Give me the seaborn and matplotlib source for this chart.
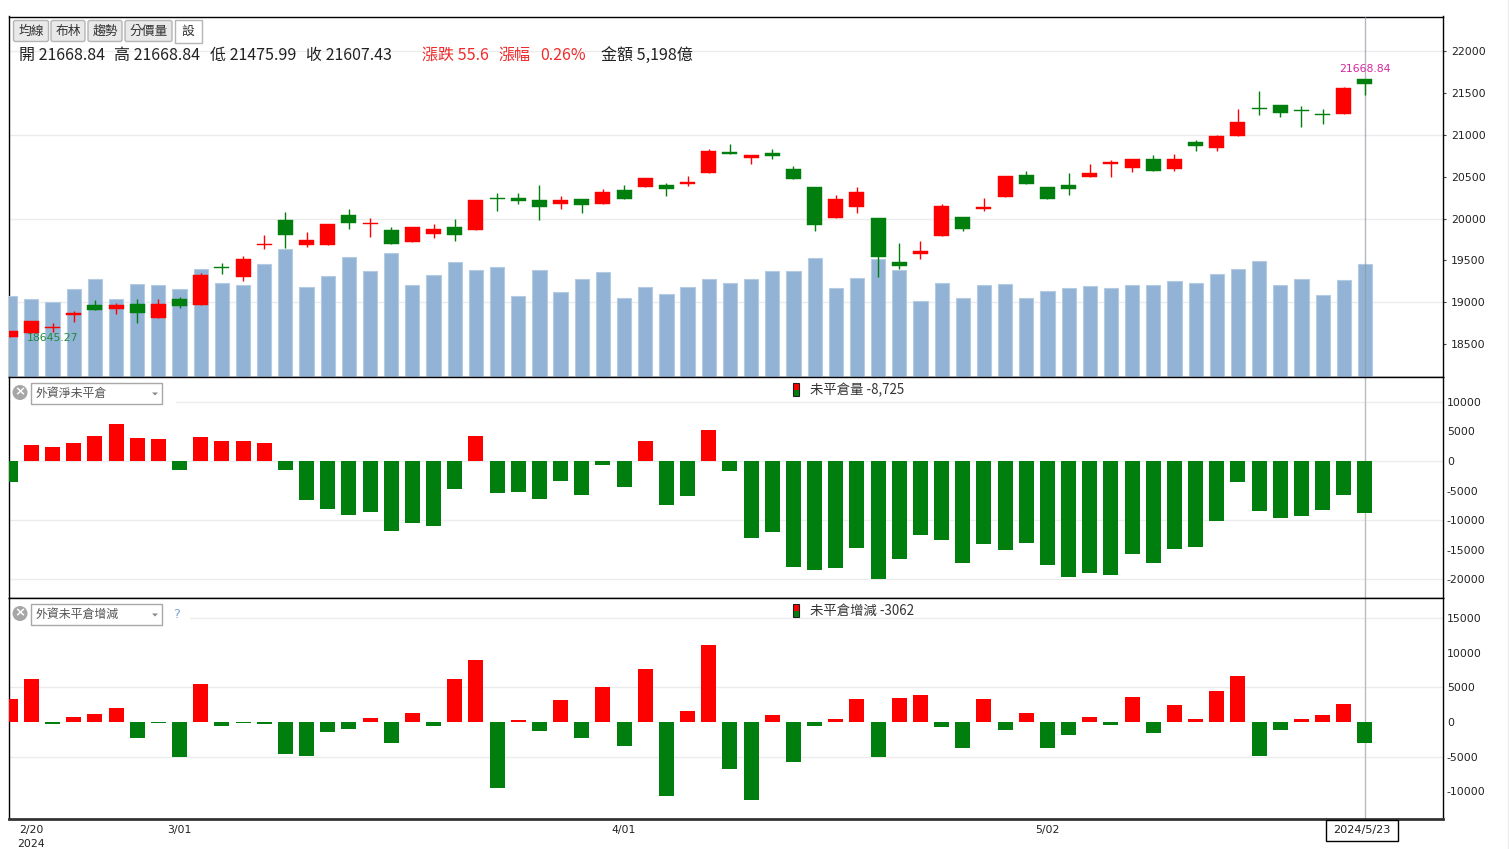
"""Taiex daily candles, turnover and foreign net open interest panes."""
import matplotlib

matplotlib.use("Agg")
import matplotlib.pyplot as plt
import numpy as np
import pandas as pd
import seaborn as sns
from matplotlib.patches import Circle, FancyBboxPatch, Polygon, Rectangle

W, H = 1509, 849
CJK = ["Noto Sans CJK TC", "DejaVu Sans"]
RED = "#ff0000"
GREEN = "#007f0e"

# -----------------------------------------------------------------------------
# Data
# -----------------------------------------------------------------------------
open_px = [18580, 18635, 18687, 18853, 18968, 18921, 18980, 18814, 19040, 18968,
           19417, 19302, 19687, 19980, 19683, 19683, 20040, 19937, 19861, 19718,
           19814, 19897, 19861, 20242, 20242, 20218, 20171, 20230, 20171, 20337,
           20373, 20397, 20409, 20540, 20802, 20730, 20790, 20599, 20373, 20004,
           20135, 20004, 19480, 19575, 19790, 20016, 20111, 20254, 20516, 20373,
           20397, 20492, 20647, 20611, 20718, 20599, 20921, 20849, 20992, 21325,
           21361, 21294, 21254, 21254, 21668.84]
high_px = [18659, 18774, 18754, 18901, 19032, 18992, 19040, 19040, 19068, 19345,
           19468, 19548, 19810, 20076, 19845, 19933, 20119, 20008, 19905, 19897,
           19933, 20000, 20218, 20310, 20302, 20405, 20266, 20230, 20349, 20397,
           20480, 20421, 20504, 20837, 20897, 20766, 20837, 20635, 20373, 20278,
           20373, 20004, 19706, 19730, 20175, 20016, 20242, 20504, 20575, 20373,
           20540, 20647, 20706, 20718, 20766, 20778, 20944, 21004, 21314, 21528,
           21361, 21349, 21314, 21575, 21668.84]
low_px = [18580, 18635, 18645.27, 18770, 18909, 18861, 18754, 18814, 18933, 18968,
          19341, 19258, 19639, 19643, 19663, 19683, 19873, 19782, 19695, 19718,
          19766, 19730, 19861, 20087, 20171, 19980, 20111, 20064, 20171, 20230,
          20373, 20266, 20385, 20540, 20778, 20647, 20718, 20468, 19849, 20004,
          20064, 19302, 19397, 19516, 19790, 19849, 20087, 20254, 20409, 20230,
          20278, 20492, 20492, 20552, 20575, 20575, 20814, 20814, 20992, 21242,
          21218, 21099, 21135, 21254, 21475.99]
close_px = [18659, 18774, 18699, 18877, 18909, 18968, 18873, 18980, 18956, 19326,
            19405, 19516, 19699, 19802, 19742, 19933, 19945, 19953, 19695, 19897,
            19873, 19802, 20218, 20230, 20206, 20135, 20218, 20159, 20314, 20230,
            20480, 20349, 20433, 20814, 20778, 20766, 20754, 20468, 19921, 20230,
            20314, 19540, 19433, 19611, 20147, 19873, 20135, 20504, 20409, 20230,
            20349, 20540, 20671, 20718, 20575, 20718, 20873, 20992, 21159, 21314,
            21266, 21282, 21242, 21563, 21607.43]
turnover = [3716, 3578, 3440, 4037, 4495, 3578, 4266, 4220, 4037, 4954,
            4312, 4220, 5183, 5871, 4128, 4633, 5504, 4862, 5688, 4220,
            4679, 5275, 4908, 5046, 3716, 4908, 3899, 4495, 4816, 3624,
            4128, 3807, 4128, 4495, 4312, 4495, 4862, 4862, 5459, 4082,
            4541, 5428, 4908, 3486, 4312, 3624, 4220, 4266, 3624, 3945,
            4082, 4174, 4082, 4220, 4220, 4404, 4312, 4725, 4954, 5321,
            4220, 4495, 3761, 4449, 5198]
net_oi = [-3547, 2702, 2365, 3040, 4222, 6249, 3885, 3716, -1520, 4054,
          3378, 3378, 3040, -1520, -6587, -8107, -9121, -8614, -11823, -10472,
          -10978, -4729, 4222, -5405, -5236, -6418, -3378, -5743, -676, -4391,
          3378, -7432, -5911, 5236, -1689, -13005, -11992, -17903, -18410, -18072,
          -14694, -19930, -16552, -12499, -13343, -17228, -14019, -15032, -13850, -17566,
          -19592, -18917, -19255, -15708, -17228, -14863, -14525, -10134, -3547, -8445,
          -9627, -9290, -8276, -5743, -8725]
oi_change = [3333, 6231, -290, 725, 1159, 2029, -2318, -120, -5072, 5506,
             -580, -100, -290, -4637, -4927, -1449, -1014, 580, -3043, 1304,
             -580, 6231, 8984, -9563, 290, -1304, 3188, -2318, 5072, -3478,
             7680, -10723, 1594, 11157, -6810, -11302, 1014, -5796, -580, 435,
             3333, -5072, 3478, 3912, -725, -3767, 3333, -1159, 1304, -3767,
             -1884, 725, -435, 3623, -1594, 2463, 435, 4492, 6665, -4927,
             -1159, 435, 1014, 2608, -3062]

price_ticks = [22000, 21500, 21000, 20500, 20000, 19500, 19000, 18500]
price_grid = [22000, 21000, 20000, 19000]
net_ticks = [10000, 5000, 0, -5000, -10000, -15000, -20000]
net_grid = [10000, 0, -10000, -20000]
chg_ticks = [15000, 10000, 5000, 0, -5000, -10000]
chg_grid = [15000, 5000, -5000]
date_pos = [1, 8, 29, 49]
date_labels = ["2/20\n2024", "3/01", "4/01", "5/02"]

idx = np.arange(len(close_px))
X_MIN, X_MAX = -0.0425, 67.7


def add_pane(top, bottom, ylim):
    """Axes placed by pixel box, with the x range shared by all panes."""
    ax = fig.add_axes([9.3 / W, 1 - bottom / H, 1434 / W, (bottom - top) / H])
    ax.set_xlim(X_MIN, X_MAX)
    ax.set_ylim(*ylim)
    return ax


def style_axis(ax, ticks, grid, tick_len=0, pad=2.5):
    ax.yaxis.tick_right()
    ax.set_yticks(ticks)
    ax.set_xticks([])
    ax.set_xlabel("")
    ax.set_ylabel("")
    ax.tick_params(axis="y", length=tick_len, width=0.8, pad=pad, labelsize=7.8,
                   labelcolor="#222222", color="#444444")
    for v in grid:
        ax.axhline(v, color="#ececec", lw=1, zorder=0)
    for s in ax.spines.values():
        s.set_color("black")
        s.set_linewidth(1)


def signed_bars(ax, values):
    df = pd.DataFrame({"i": idx, "v": values,
                       "side": ["up" if v > 0 else "down" for v in values]})
    sns.barplot(data=df, x="i", y="v", hue="side", native_scale=True, dodge=False,
                palette={"up": RED, "down": GREEN}, errorbar=None, width=0.71,
                saturation=1, legend=False, linewidth=0, ax=ax, zorder=3)
    ax.set_xlim(X_MIN, X_MAX)


sns.set_theme(style="white")
plt.rcParams["font.family"] = ["DejaVu Sans", "Noto Sans CJK TC"]
plt.rcParams["axes.unicode_minus"] = False

fig = plt.figure(figsize=(W / 100, H / 100), dpi=100)
fig.patch.set_facecolor("white")

# -----------------------------------------------------------------------------
# Price pane: grid at the bottom, turnover above it, candles on top
# -----------------------------------------------------------------------------
price_lim = (18107, 22416)
ax_price = add_pane(16.5, 377, price_lim)
style_axis(ax_price, price_ticks, price_grid, tick_len=2.2, pad=3.2)

ax_vol = add_pane(16.5, 377, (0, 16539))
ax_vol.patch.set_visible(False)
sns.barplot(x=idx, y=turnover, native_scale=True, color="#92b3d5", saturation=1,
            errorbar=None, width=0.67, edgecolor="#b4cbe2", linewidth=0.8, ax=ax_vol)
ax_vol.set_xlim(X_MIN, X_MAX)
ax_vol.axis("off")
ax_vol.axvline(idx[-1], color="#8f9aa6", lw=1, alpha=0.7, zorder=5)

ax_candle = add_pane(16.5, 377, price_lim)
ax_candle.patch.set_visible(False)
ax_candle.axis("off")
for i, o, h, l, c in zip(idx, open_px, high_px, low_px, close_px):
    col = RED if c > o else GREEN
    ax_candle.vlines(i, l, h, color=col, lw=1, zorder=3)
    ax_candle.bar(i, abs(c - o), bottom=min(o, c), width=0.71, color=col,
                  edgecolor=col, lw=0.3, zorder=4)

ax_candle.annotate("21668.84", (idx[-1], high_px[-1]), xytext=(0, 3.5),
                   textcoords="offset points", ha="center", va="bottom",
                   fontsize=7.8, color="#d9259c")
ax_candle.annotate("18645.27", (2, low_px[2]), xytext=(0, -1),
                   textcoords="offset points", ha="center", va="top",
                   fontsize=7.8, color="#1f8a3c")

# -----------------------------------------------------------------------------
# Foreign net open interest and its daily change
# -----------------------------------------------------------------------------
ax_net = add_pane(377, 598, (-23139, 14188))
signed_bars(ax_net, net_oi)
style_axis(ax_net, net_ticks, net_grid)
ax_net.axvline(idx[-1], color="#bbbbbb", lw=1, zorder=1)

ax_chg = add_pane(598, 819, (-14055, 17968))
signed_bars(ax_chg, oi_change)
style_axis(ax_chg, chg_ticks, chg_grid)
ax_chg.axvline(idx[-1], color="#bbbbbb", lw=1, zorder=1)
ax_chg.set_xticks(date_pos)
ax_chg.set_xticklabels(date_labels, fontsize=7.8, color="#222222", linespacing=1.55)
ax_chg.tick_params(axis="x", length=0, pad=4)
ax_chg.spines["bottom"].set_linewidth(2)
ax_chg.spines["bottom"].set_color("#333333")

# -----------------------------------------------------------------------------
# Page widgets, drawn in pixel coordinates
# -----------------------------------------------------------------------------
ui = fig.add_axes([0, 0, 1, 1], zorder=10)
ui.set_xlim(0, W)
ui.set_ylim(H, 0)
ui.axis("off")
ui.patch.set_visible(False)


def button(x0, x1, label, bg="#e9e9e9", edge="#b5b5b5"):
    ui.add_patch(FancyBboxPatch((x0 + 1, 20.5), x1 - x0 - 2, 21,
                                boxstyle="round,pad=0,rounding_size=2",
                                fc=bg, ec=edge, lw=1, mutation_aspect=1))
    ui.text((x0 + x1) / 2, 31.5, label, ha="center", va="center", fontsize=9.2,
            color="#333333", family=CJK)


button(12.5, 49.5, "均線")
button(50, 86, "布林")
button(87, 123, "趨勢")
button(124, 173, "分價量")
ui.add_patch(Rectangle((174.5, 19.5), 27, 23, fc="white", ec="#b5b5b5", lw=1))
ui.text(188, 31.5, "設", ha="center", va="center", fontsize=9.2, color="#333333", family=CJK)

header = [(19, "開 21668.84", "#222222"), (114, "高 21668.84", "#222222"),
          (210, "低 21475.99", "#222222"), (306, "收 21607.43", "#222222"),
          (422, "漲跌 55.6", "#f02a2a"), (498, "漲幅", "#f02a2a"),
          (540, "0.26%", "#f02a2a"), (601, "金額 5,198億", "#222222")]
for x, s, col in header:
    ui.text(x, 55, s, ha="left", va="center", fontsize=11.5, color=col, family=CJK)


def dropdown(y0, label, white_to):
    ui.add_patch(Rectangle((10.5, y0 - 3), white_to - 10.5, 26, fc="white", ec="none"))
    ui.add_patch(Circle((20, y0 + 10), 7.5, fc="#a6a6a6", ec="none"))
    ui.text(20, y0 + 9.7, "×", ha="center", va="center", fontsize=9.5, color="white",
            fontweight="bold")
    ui.add_patch(Rectangle((31.2, y0), 131, 21, fc="white", ec="#a8a8a8", lw=1))
    ui.text(35.5, y0 + 11, label, ha="left", va="center", fontsize=8.6, color="#555555",
            family=CJK)
    ui.add_patch(Polygon([(152, y0 + 10), (158, y0 + 10), (155, y0 + 13)], fc="#888888", ec="none"))


dropdown(382.5, "外資淨未平倉", 176)
dropdown(603.5, "外資未平倉增減", 190)
ui.text(177, 614, "?", ha="center", va="center", fontsize=9.5, color="#7fa6d6")


def legend_icon(y0, label):
    ui.add_patch(Rectangle((792.5, y0), 6, 6.5, fc=RED, ec="none"))
    ui.add_patch(Rectangle((792.5, y0 + 6.5), 6, 6.5, fc=GREEN, ec="none"))
    ui.add_patch(Rectangle((792.5, y0), 6, 13, fc="none", ec="#222222", lw=0.8))
    ui.text(809.5, y0 + 7.2, label, ha="left", va="center", fontsize=9.6, color="#333333",
            family=CJK)


legend_icon(383, "未平倉量 -8,725")
legend_icon(604, "未平倉增減 -3062")

ui.add_patch(Rectangle((1326, 819.5), 71.5, 21, fc="white", ec="black", lw=1))
ui.text(1361.7, 830, "2024/5/23", ha="center", va="center", fontsize=8.1, color="#222222")
ui.plot([1508, 1508], [0, H], color="#ececec", lw=1)

fig.savefig("out.png", dpi=100)
